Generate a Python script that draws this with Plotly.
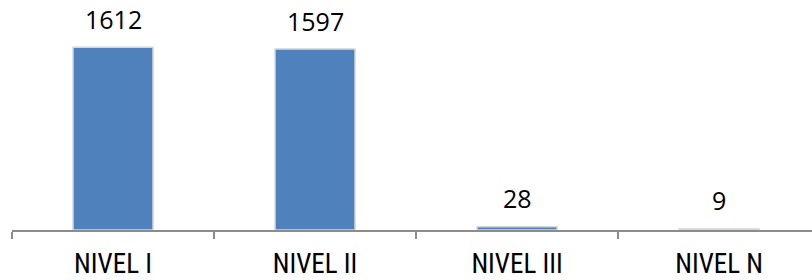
import plotly.graph_objects as go

categories = ["NIVEL I", "NIVEL II", "NIVEL III", "NIVEL N"]
values = [1612, 1597, 28, 9]
value_labels = ["1612", "1597", "28", "9"]

BAR_COLOR = "#4F81BD"
AXIS_COLOR = "#8C8C8C"

fig = go.Figure()
fig.add_trace(go.Bar(
    x=categories,
    y=values,
    marker=dict(color=BAR_COLOR, line=dict(color="#D6D6D6", width=1.5)),
    hoverinfo="skip",
))

for c, v, t in zip(categories, values, value_labels):
    fig.add_annotation(
        x=c, y=v, text=t, showarrow=False,
        xanchor="center", yanchor="middle", yshift=28.5,
        font=dict(family="Open Sans, sans-serif", size=25, color="#000000"),
    )

fig.update_layout(
    width=812, height=280,
    margin=dict(l=12, r=0, t=0, b=47),
    paper_bgcolor="white", plot_bgcolor="white",
    bargap=0.604,
    showlegend=False,
    xaxis=dict(
        type="category",
        range=[-0.5, 3.46],
        showline=True, linecolor=AXIS_COLOR, linewidth=2,
        ticks="outside", tickson="boundaries", ticklen=7,
        tickcolor=AXIS_COLOR, tickwidth=1.5,
        ticklabelstandoff=9,
        tickfont=dict(family="Roboto Condensed, sans-serif", size=27, color="#000000"),
        showgrid=False, zeroline=False,
    ),
    yaxis=dict(
        range=[0, 2030], visible=False, showgrid=False, zeroline=False,
    ),
)

fig.write_html("out.html", config={"displayModeBar": False})
html = open("out.html").read().replace("<head>", "<head><style>body{margin:0}</style>", 1)
open("out.html", "w").write(html)
